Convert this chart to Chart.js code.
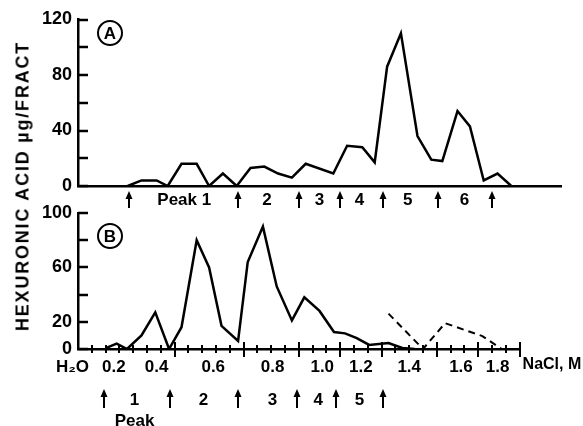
<!DOCTYPE html>
<html>
<head>
<meta charset="utf-8">
<script src="https://cdn.jsdelivr.net/npm/chart.js@4.4.1/dist/chart.umd.min.js"></script>
<style>
html, body { margin: 0; padding: 0; background: #fff; }
#wrap { position: relative; width: 583px; height: 426px; overflow: hidden; }
canvas { position: absolute; left: 0; }
#cA { top: 0; }
#cB { top: 190px; }
#ytitle {
    position: absolute; left: 22.5px; top: 186px;
    transform: translate(-50%, -50%) rotate(-90deg);
    font: bold 18px "Liberation Sans", Arial, sans-serif;
    letter-spacing: 1.8px; white-space: nowrap; color: #000;
}
</style>
</head>
<body>
<div id="wrap">
    <canvas id="cA" width="583" height="215"></canvas>
    <canvas id="cB" width="583" height="240"></canvas>
    <div id="ytitle">HEXURONIC ACID µg/FRACT</div>
</div>
<script>
(() => {
'use strict';

// Panel A: fraction number -> hexuronic acid (ug/fract)
const fracA = [3.6, 4.6, 5.7, 6.5, 7.5, 8.6, 9.5, 10.5, 11.5, 12.5, 13.5, 14.5, 15.5, 16.5,
               18.5, 19.5, 20.6, 21.5, 22.4, 23.4, 24.6, 25.6, 26.4, 27.5, 28.4, 29.4, 30.4, 31.4];
const hexA  = [0, 4, 4, 0, 16, 16, 0, 9, 0, 13, 14, 9, 6, 16,
               9, 29, 28, 17, 86, 110, 36, 19, 18, 54, 43, 4, 9, 0];

// Panel B: solid and dashed profiles
const fracB = [2.1, 2.8, 3.55, 4.6, 5.6, 6.6, 7.5, 8.6, 9.5, 10.4, 11.6, 12.3, 13.4, 14.4,
               15.5, 16.4, 17.5, 18.55, 19.35, 20.2, 21.1, 22.5, 23.5, 24.4];
const hexB  = [1, 4, 0, 10, 27, 0, 16, 80, 60, 17, 6, 64, 90, 46,
               21, 38, 28, 12.5, 11.5, 8, 3, 4.4, 0.7, 0];
const fracB2 = [22.5, 25.0, 26.6, 29.3, 30.7];
const hexB2  = [26, 0, 19, 9.5, 0];

// peak boundaries (arrows) and peak names
const arrowsA = [3.7, 11.6, 16.0, 19.0, 22.1, 26.1, 30.0];
const peaksA = ['Peak 1', '2', '3', '4', '5', '6'];
const peakPosA = [7.7, 13.7, 17.5, 20.4, 23.9, 28.0];
const arrowsB = [1.9, 6.7, 11.6, 15.9, 18.7, 22.1];
const peaksB = ['1', '2', '3', '4', '5'];
const peakPosB = [4.1, 9.1, 14.1, 17.4, 20.4];

// NaCl gradient labels along panel B axis
const naclLabels = ['H₂O', '0.2', '0.4', '0.6', '0.8', '1.0', '1.2', '1.4', '1.6', '1.8'];
const naclPos = [-0.4, 2.6, 5.7, 9.8, 14.1, 17.7, 20.5, 24.0, 27.75, 30.4];
const majorB = [7, 12, 16, 19, 22, 26, 29, 32];

const yLabelsA = [0, 40, 80, 120];
const yLabelsB = [0, 20, 60, 100];

const FONT = '"Liberation Sans", Arial, sans-serif';

const pts = (xs, ys) => xs.map((x, i) => ({ x, y: ys[i] }));

function deco(d) {
    return {
        id: 'deco',
        afterDraw(chart) {
            const { ctx, chartArea: a, scales: { x, y } } = chart;
            const line = (x1, y1, x2, y2) => { ctx.beginPath(); ctx.moveTo(x1, y1); ctx.lineTo(x2, y2); ctx.stroke(); };
            ctx.save();
            ctx.strokeStyle = '#000';
            ctx.fillStyle = '#000';
            ctx.lineWidth = 2.5;
            // y ticks pointing into the plot
            y.ticks.forEach(t => {
                const py = Math.round(y.getPixelForValue(t.value));
                line(a.left, py, a.left + 10, py);
            });
            // crossing ticks on x axis
            if (d.crossTicks) {
                ctx.lineWidth = 2;
                for (let f = 1; f <= x.max; f++) {
                    const big = majorB.includes(f);
                    const px = Math.round(x.getPixelForValue(f));
                    line(px, a.bottom - (big ? 7 : 4), px, a.bottom + (big ? 8 : 4));
                }
            }
            // arrows
            ctx.lineWidth = 2;
            d.arrows.forEach(f => {
                const px = Math.round(x.getPixelForValue(f));
                const top = a.bottom + d.arrowTop;
                line(px, top + 5, px, top + d.arrowLen);
                ctx.beginPath();
                ctx.moveTo(px, top);
                ctx.lineTo(px - 3.5, top + 8);
                ctx.lineTo(px + 3.5, top + 8);
                ctx.closePath();
                ctx.fill();
            });
            ctx.textAlign = 'center';
            ctx.textBaseline = 'middle';
            ctx.font = 'bold 17px ' + FONT;
            d.peaks.forEach((s, i) => ctx.fillText(s, x.getPixelForValue(d.peakPos[i]), a.bottom + d.peakDy));
            if (d.extra) d.extra(ctx, a, x);
            // circled panel letter
            ctx.lineWidth = 2;
            ctx.beginPath();
            ctx.arc(a.left + 32, a.top + d.circleDy, 12, 0, Math.PI * 2);
            ctx.stroke();
            ctx.font = 'bold 17px ' + FONT;
            ctx.fillText(d.letter, a.left + 32, a.top + d.circleDy + 1);
            ctx.restore();
        }
    };
}

function makeChart(id, c) {
    return new Chart(document.getElementById(id), {
        type: 'line',
        data: { datasets: c.datasets },
        options: {
            responsive: false,
            animation: false,
            layout: { padding: { left: 0, right: c.padRight, top: c.padTop, bottom: 0 } },
            plugins: { legend: { display: false }, tooltip: { enabled: false } },
            elements: { point: { radius: 0 }, line: { tension: 0, borderJoinStyle: 'miter' } },
            scales: {
                x: {
                    type: 'linear', min: 0, max: c.xMax,
                    grid: { display: false, drawTicks: false },
                    border: { display: true, color: '#000', width: 2.5 },
                    ticks: c.xTicks,
                    afterBuildTicks: c.xBuild,
                    afterFit: s => { s.height = c.xHeight; }
                },
                y: {
                    min: 0, max: c.yMax,
                    grid: { display: false, drawTicks: false },
                    border: { display: true, color: '#000', width: 2.5 },
                    ticks: {
                        stepSize: 20, padding: 6, color: '#000',
                        font: { family: FONT, size: 18, weight: 'bold' },
                        callback: v => c.yLabels.includes(v) ? String(v) : ''
                    },
                    afterFit: s => { s.width = 78; }
                }
            }
        },
        plugins: [deco(c.deco)]
    });
}

makeChart('cA', {
    datasets: [{ data: pts(fracA, hexA), borderColor: '#000', borderWidth: 2.5, fill: false }],
    padRight: 22, padTop: 19.5, xMax: 35, xHeight: 29, yMax: 120, yLabels: yLabelsA,
    xTicks: { display: false },
    deco: { letter: 'A', circleDy: 13.5, arrows: arrowsA, arrowTop: 5, arrowLen: 17,
            peaks: peaksA, peakPos: peakPosA, peakDy: 14 }
});

makeChart('cB', {
    datasets: [
        { data: pts(fracB, hexB), borderColor: '#000', borderWidth: 2.5, fill: false },
        { data: pts(fracB2, hexB2), borderColor: '#000', borderWidth: 2, borderDash: [7, 5], fill: false }
    ],
    padRight: 63.4, padTop: 23, xMax: 32, xHeight: 81, yMax: 100, yLabels: yLabelsB,
    xTicks: {
        display: true, autoSkip: false, maxRotation: 0, padding: 8, color: '#000',
        font: { family: FONT, size: 17, weight: 'bold' },
        callback: (v, i) => naclLabels[i]
    },
    xBuild: s => { s.ticks = naclPos.map(v => ({ value: v })); },
    deco: { letter: 'B', circleDy: 23, arrows: arrowsB, arrowTop: 40, arrowLen: 19,
            peaks: peaksB, peakPos: peakPosB, peakDy: 51, crossTicks: true,
            extra: (ctx, a, x) => {
                ctx.fillText('Peak', x.getPixelForValue(4.1), a.bottom + 72);
                ctx.textAlign = 'left';
                ctx.font = 'bold 16px ' + FONT;
                ctx.fillText('NaCl, M', a.right + 3, a.bottom + 16);
                ctx.textAlign = 'center';
            } }
});

})();
</script>
</body>
</html>
